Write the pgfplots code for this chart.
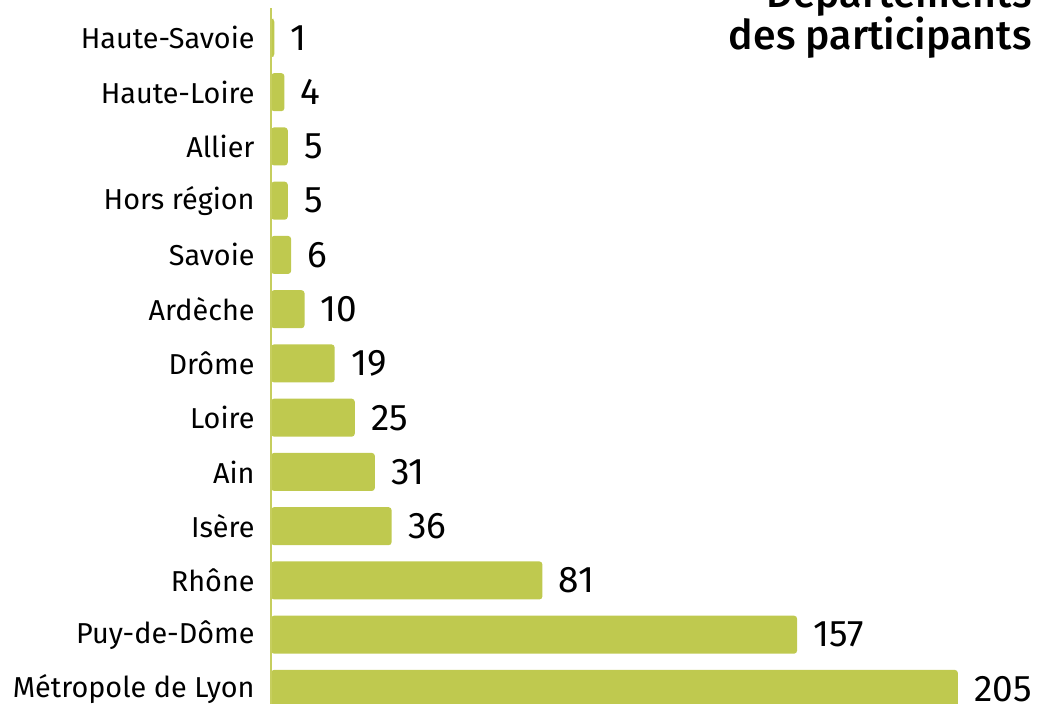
\documentclass[border=0pt]{standalone}
\usepackage{pgfplots}
\pgfplotsset{compat=1.18}
\usepackage{fontspec}
\setmainfont{Fira Sans}
\newfontfamily\titlefont{Fira Sans Medium}
\definecolor{barcol}{HTML}{BFC94F}
\definecolor{axcol}{HTML}{C6CE5E}

\begin{document}
\begin{tikzpicture}
\useasboundingbox (0,0) rectangle (522.5pt,352pt);
\clip (0,0) rectangle (522.5pt,352pt);
\begin{axis}[
    at={(135.5pt,-8.75pt)}, anchor=south west,
    scale only axis,
    width=387pt, height=356.7pt,
    xmin=0, xmax=231,
    ymin=-0.6, ymax=12.55,
    xbar, bar width=19pt,
    hide x axis,
    axis y line*=left,
    y axis line style={axcol, line width=1pt},
    axis on top,
    ytick={0,...,12},
    yticklabels={Métropole de Lyon, Puy-de-Dôme, Rhône, Isère, Ain, Loire,
      Drôme, Ardèche, Savoie, Hors région, Allier, Haute-Loire, Haute-Savoie},
    major tick length=0pt,
    yticklabel style={font=\fontsize{14.4pt}{16pt}\selectfont, inner sep=0pt, xshift=-8pt},
    /pgf/number format/assume math mode=true,
    nodes near coords,
    nodes near coords style={anchor=west, inner sep=0pt, xshift=8pt,
      font=\fontsize{18.5pt}{20pt}\selectfont, text=black},
    clip=false,
  ]
  \addplot[fill=barcol, draw=none, rounded corners=1.5pt] coordinates {
    (205,0) (157,1) (81,2) (36,3) (31,4) (25,5) (19,6)
    (10,7) (6,8) (5,9) (5,10) (4,11) (1,12)
  };
\end{axis}
\node[anchor=base east, inner sep=0pt, font=\titlefont\fontsize{20.5pt}{22pt}\selectfont] at (516pt,348pt) {Départements};
\node[anchor=base east, inner sep=0pt, font=\titlefont\fontsize{20.5pt}{22pt}\selectfont] at (516pt,327pt) {des participants};
\end{tikzpicture}
\end{document}
